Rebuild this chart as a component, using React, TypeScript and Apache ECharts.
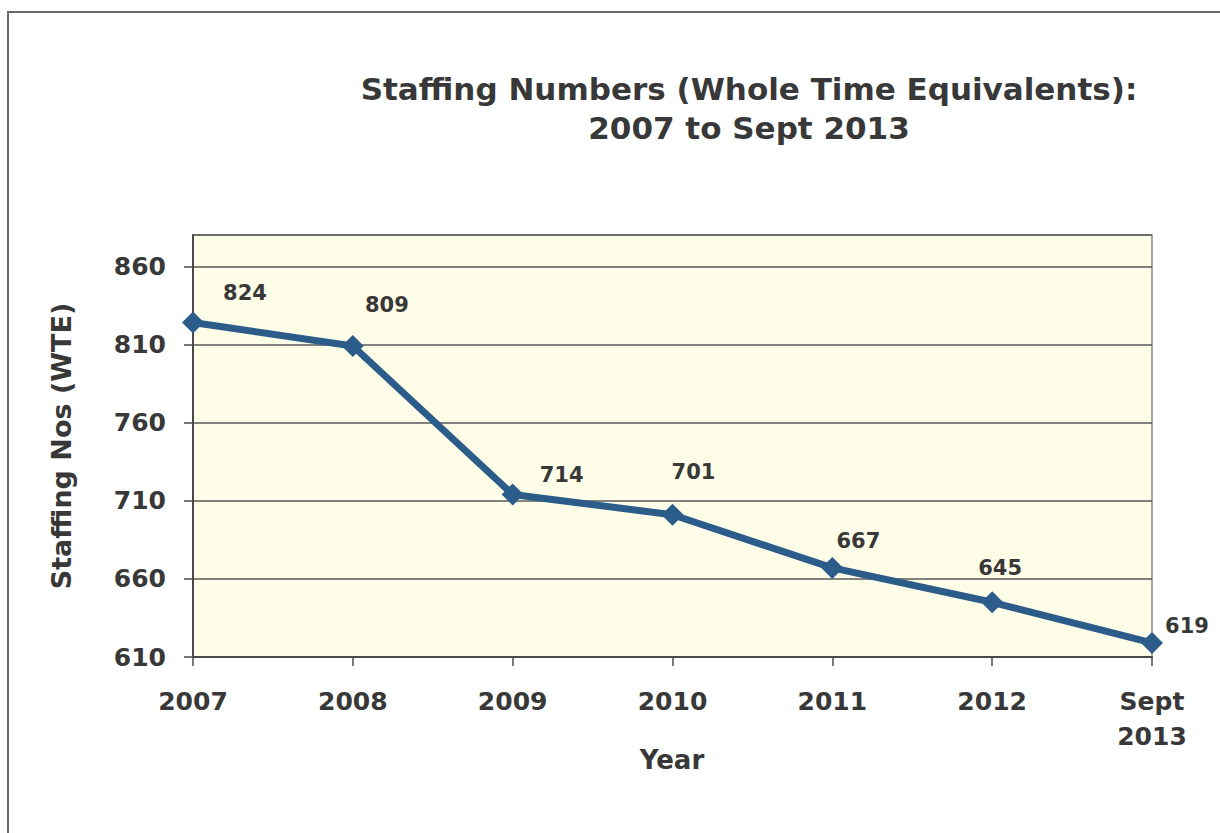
import React, { useEffect, useRef } from "react";
import * as echarts from "echarts";

const categories = ["2007", "2008", "2009", "2010", "2011", "2012", "Sept\n2013"];
const staffing = [824, 809, 714, 701, 667, 645, 619];
const yMin = 610;
const yMax = 880;
const yInterval = 50;
const titleLines = ["Staffing Numbers (Whole Time Equivalents):", "2007 to Sept 2013"];
const xAxisName = "Year";
const yAxisName = "Staffing Nos (WTE)";
// label placement (layout only)
const labelOffsets: [number, number][] = [
  [52, -30],
  [34, -41],
  [49, -19],
  [21, -43],
  [26, -27],
  [8, -34],
  [35, -17],
];

const FONT = "'DejaVu Sans', 'Liberation Sans', Arial, sans-serif";
const TEXT = "#383838";

export default function App() {
  const ref = useRef<HTMLDivElement>(null);
  useEffect(() => {
    document.body.style.margin = "0";
    if (!ref.current) return;
    const chart = echarts.init(ref.current, null, { renderer: "svg" });
    chart.setOption({
      animation: false,
      backgroundColor: "#ffffff",
      textStyle: { fontFamily: FONT },
      graphic: [
        {
          type: "rect",
          x: 8,
          y: 12,
          shape: { width: 1230, height: 840 },
          style: { fill: "none", stroke: "#6a6a6a", lineWidth: 2 },
          z: 0,
        },
        {
          type: "text",
          x: 749,
          y: 69,
          style: {
            text: titleLines.join("\n"),
            font: `bold 31px ${FONT}`,
            fill: TEXT,
            align: "center",
            verticalAlign: "top",
            lineHeight: 39,
          },
        },
        {
          type: "text",
          x: 672,
          y: 760,
          style: {
            text: xAxisName,
            font: `bold 26px ${FONT}`,
            fill: TEXT,
            align: "center",
            verticalAlign: "middle",
          },
        },
      ],
      grid: {
        left: 193,
        right: 68,
        top: 235,
        bottom: 176,
        show: true,
        backgroundColor: "#FEFDE7",
        borderColor: "#8a8a8a",
        borderWidth: 1.5,
      },
      xAxis: {
        type: "category",
        data: categories,
        boundaryGap: false,
        axisLine: { lineStyle: { color: "#4a4a4a", width: 2 } },
        axisTick: { show: true, length: 9, lineStyle: { color: "#4a4a4a", width: 1.5 } },
        axisLabel: {
          fontFamily: FONT,
          fontWeight: "bold",
          fontSize: 25,
          color: TEXT,
          margin: 27,
          lineHeight: 35,
          verticalAlign: "top",
          interval: 0,
        },
        splitLine: { show: false },
      },
      yAxis: {
        type: "value",
        min: yMin,
        max: yMax,
        interval: yInterval,
        name: yAxisName,
        nameLocation: "middle",
        nameGap: 118,
        nameRotate: 90,
        nameTextStyle: { fontFamily: FONT, fontWeight: "bold", fontSize: 27, color: TEXT },
        axisLine: { show: true, lineStyle: { color: "#4a4a4a", width: 2 } },
        axisTick: { show: true, length: 9, lineStyle: { color: "#4a4a4a", width: 1.5 } },
        axisLabel: {
          fontFamily: FONT,
          fontWeight: "bold",
          fontSize: 25,
          color: TEXT,
          margin: 27,
          showMaxLabel: false,
        },
        splitLine: { show: true, lineStyle: { color: "#5a5a5a", width: 1.5 } },
      },
      series: [
        {
          type: "line",
          data: staffing.map((v, i) => ({
            value: v,
            label: { offset: labelOffsets[i] },
          })),
          symbol: "diamond",
          symbolSize: 22,
          lineStyle: { color: "#2B5C8A", width: 7 },
          itemStyle: { color: "#2B5C8A" },
          label: {
            show: true,
            position: "inside",
            fontFamily: FONT,
            fontWeight: "bold",
            fontSize: 21,
            color: TEXT,
          },
          z: 5,
        },
      ],
    });
    return () => chart.dispose();
  }, []);
  return <div ref={ref} style={{ width: 1220, height: 833 }} />;
}
